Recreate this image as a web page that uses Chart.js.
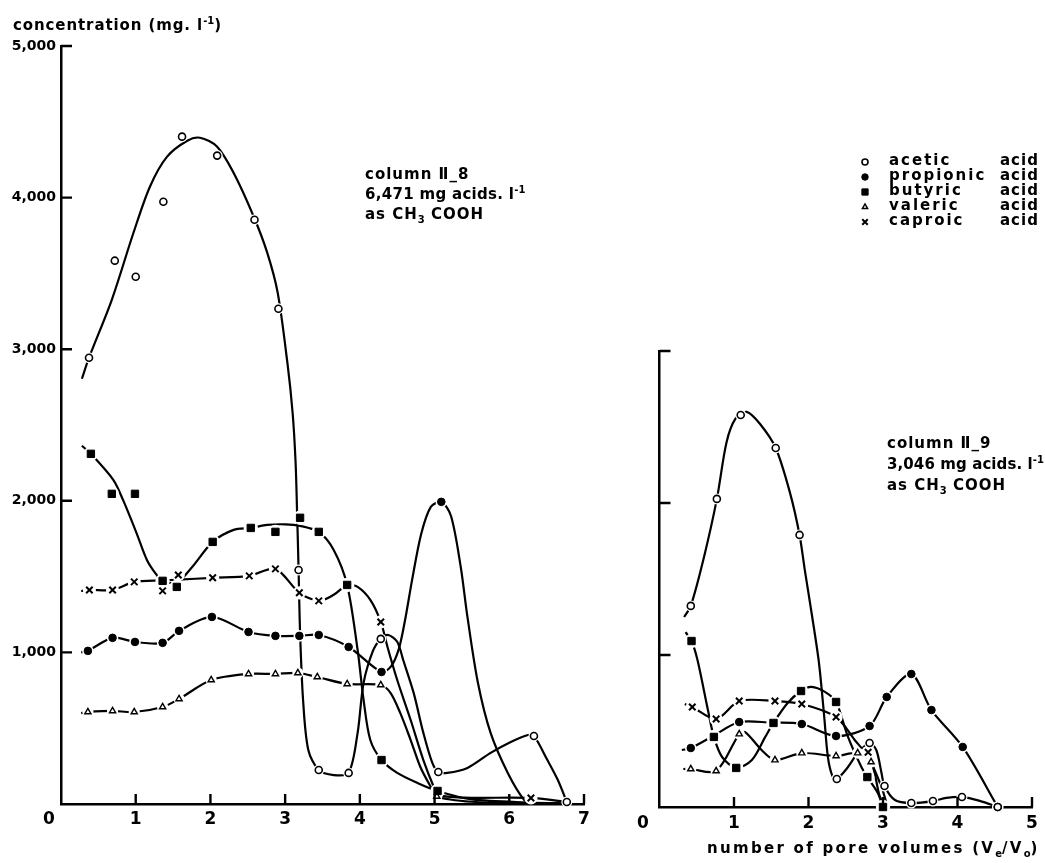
<!DOCTYPE html>
<html>
<head>
<meta charset="utf-8">
<script src="https://cdn.jsdelivr.net/npm/chart.js@4.4.1/dist/chart.umd.min.js"></script>
<style>
  html, body { margin: 0; padding: 0; background: #fff; }
  #wrap { position: relative; width: 1045px; height: 863px; overflow: hidden;
          font-family: "DejaVu Sans", sans-serif; color: #000; }
  canvas { position: absolute; top: 0; }
  #c8 { left: 0; }
  #c9 { left: 620px; }
  .t { position: absolute; white-space: nowrap; font-size: 15px; line-height: 20px; letter-spacing: 1px; font-weight: bold; }
  .t sup { font-size: 10px; vertical-align: 6px; line-height: 0; letter-spacing: 0; }
  .t sub { font-size: 10px; vertical-align: -4px; line-height: 0; letter-spacing: 0; }
  .lg { letter-spacing: 2px; }
  .ax0 { position: absolute; font-size: 17px; line-height: 20px; font-weight: bold; }
</style>
</head>
<body>
<div id="wrap">
  <canvas id="c8" width="620" height="863"></canvas>
  <canvas id="c9" width="425" height="863"></canvas>

  <div class="t" style="left:13px;top:15px;letter-spacing:0.9px;">concentration (mg. l<sup>-1</sup>)</div>

  <div class="t" style="left:365px;top:164px;">column Ⅱ_8</div>
  <div class="t" style="left:365px;top:184px;letter-spacing:0.3px;">6,471 mg acids. l<sup>-1</sup></div>
  <div class="t" style="left:365px;top:204px;">as CH<sub>3</sub> COOH</div>

  <div class="t" style="left:887px;top:433px;">column Ⅱ_9</div>
  <div class="t" style="left:887px;top:454px;letter-spacing:0.1px;">3,046 mg acids. l<sup>-1</sup></div>
  <div class="t" style="left:887px;top:475px;">as CH<sub>3</sub> COOH</div>

  <div class="t lg" style="left:889px;top:150px;">acetic</div>
  <div class="t" style="left:1000px;top:150px;">acid</div>
  <div class="t lg" style="left:889px;top:165px;">propionic</div>
  <div class="t" style="left:1000px;top:165px;">acid</div>
  <div class="t lg" style="left:889px;top:180px;">butyric</div>
  <div class="t" style="left:1000px;top:180px;">acid</div>
  <div class="t lg" style="left:889px;top:195px;">valeric</div>
  <div class="t" style="left:1000px;top:195px;">acid</div>
  <div class="t lg" style="left:889px;top:210px;">caproic</div>
  <div class="t" style="left:1000px;top:210px;">acid</div>

  <div class="ax0" style="left:43px;top:808px;">0</div>
  <div class="ax0" style="left:637px;top:812px;">0</div>

  <div class="t" style="left:707px;top:838px;letter-spacing:2.3px;">number of pore volumes (V<sub>e</sub>/V<sub>o</sub>)</div>
</div>

<script>
// ---- column II-8 : measured points [pore volumes, mg/l] ----
const acetic8 = [[0.375,2944],[0.72,3584],[1.0,3478],[1.37,3973],[1.62,4402],[2.09,4277],[2.59,3854],[2.91,3267],[3.18,1544],[3.45,224],[3.85,205],[4.28,1089],[5.05,211],[6.33,449],[6.77,13]];
const propionic8 = [[0.36,1010],[0.69,1096],[0.99,1069],[1.36,1063],[1.58,1142],[2.02,1234],[2.51,1135],[2.87,1109],[3.19,1109],[3.45,1115],[3.85,1036],[4.29,871],[5.09,1993]];
const butyric8 = [[0.40,2310],[0.68,2046],[0.99,2046],[1.36,1472],[1.55,1432],[2.03,1729],[2.54,1821],[2.87,1795],[3.2,1888],[3.45,1795],[3.83,1445],[4.29,290],[5.04,86]];
const valeric8 = [[0.36,607],[0.69,614],[0.98,607],[1.36,640],[1.58,693],[2.01,818],[2.51,858],[2.87,858],[3.17,864],[3.43,838],[3.83,792],[4.28,785],[5.03,50]];
const caproic8 = [[0.38,1412],[0.69,1412],[0.98,1465],[1.36,1406],[1.57,1511],[2.03,1492],[2.52,1505],[2.87,1551],[3.19,1393],[3.45,1340],[4.28,1201],[6.29,40]];

// ---- column II-8 : hand-fitted curves ----
const acetic8Curve = [[0.28,2805],[0.375,2944],[0.68,3326],[0.97,3768],[1.19,4072],[1.42,4270],[1.69,4375],[1.86,4395],[2.09,4336],[2.31,4164],[2.58,3874],[2.76,3637],[2.9,3373],[3.03,2911],[3.1,2581],[3.14,2251],[3.16,1921],[3.18,1544],[3.2,1129],[3.24,686],[3.31,356],[3.45,224],[3.65,191],[3.85,205],[3.97,469],[4.05,799],[4.18,1016],[4.28,1089],[4.38,1115],[4.5,1070],[4.58,950],[4.72,733],[4.85,469],[4.97,271],[5.05,211],[5.17,205],[5.44,238],[5.75,337],[6.02,409],[6.25,455],[6.33,449],[6.51,290],[6.65,158],[6.77,13]];
const propionic8Curve = [[0.27,1000],[0.36,1010],[0.69,1096],[0.99,1069],[1.36,1063],[1.58,1142],[2.02,1234],[2.51,1135],[2.87,1109],[3.19,1109],[3.45,1115],[3.85,1036],[4.29,871],[4.42,910],[4.52,1020],[4.6,1200],[4.7,1480],[4.82,1780],[4.95,1960],[5.09,1993],[5.22,1900],[5.35,1564],[5.44,1234],[5.58,800],[5.75,469],[5.98,205],[6.2,26],[6.3,5]];
const butyric8Curve = [[0.28,2363],[0.40,2310],[0.7,2138],[0.83,2006],[1.01,1789],[1.15,1610],[1.28,1511],[1.36,1472],[1.55,1460],[1.75,1560],[2.03,1729],[2.31,1808],[2.54,1821],[2.76,1841],[3.0,1845],[3.2,1835],[3.45,1795],[3.65,1676],[3.83,1445],[3.97,1016],[4.05,686],[4.14,422],[4.29,290],[4.5,205],[4.77,139],[5.04,86],[5.5,30],[6.3,10],[6.75,5]];
const valeric8Curve = [[0.27,600],[0.36,607],[0.69,614],[0.98,607],[1.36,640],[1.58,693],[2.01,818],[2.51,858],[2.87,858],[3.17,864],[3.43,838],[3.83,792],[4.28,785],[4.41,733],[4.54,601],[4.68,422],[4.81,244],[4.95,112],[5.03,50],[5.5,15],[6.3,5],[6.75,3]];
const caproic8Curve = [[0.27,1405],[0.38,1412],[0.69,1412],[0.98,1465],[1.36,1475],[1.57,1480],[2.03,1492],[2.52,1505],[2.87,1551],[3.19,1393],[3.45,1340],[3.65,1380],[3.83,1445],[3.97,1432],[4.14,1346],[4.28,1201],[4.37,1036],[4.5,818],[4.68,554],[4.85,290],[4.99,112],[5.05,60],[5.4,42],[6.29,40],[6.75,15]];

// ---- column II-9 : measured points ----
const acetic9 = [[0.42,1323],[0.77,2027],[1.09,2579],[1.56,2362],[1.88,1790],[2.38,184],[2.82,421],[3.02,138],[3.38,26],[3.67,39],[4.06,66],[4.54,0]];
const propionic9 = [[0.42,388],[1.07,559],[1.91,546],[2.37,467],[2.82,533],[3.05,724],[3.38,875],[3.65,638],[4.07,395],[4.54,0]];
const butyric9 = [[0.43,1092],[0.73,461],[1.03,257],[1.53,553],[1.9,763],[2.37,691],[2.79,197],[3.0,0]];
const valeric9 = [[0.42,250],[0.76,237],[1.07,480],[1.55,309],[1.91,355],[2.37,336],[2.66,355],[2.84,296]];
const caproic9 = [[0.44,658],[0.76,579],[1.07,697],[1.55,697],[1.91,678],[2.37,592],[2.8,360]];

// ---- column II-9 : hand-fitted curves ----
const acetic9Curve = [[0.33,1250],[0.42,1323],[0.6,1650],[0.77,2027],[0.9,2400],[1.02,2555],[1.17,2600],[1.35,2520],[1.56,2362],[1.75,2070],[1.88,1790],[1.95,1560],[2.05,1250],[2.14,950],[2.21,600],[2.26,330],[2.32,205],[2.38,184],[2.53,263],[2.66,355],[2.82,421],[2.91,375],[2.98,224],[3.02,138],[3.16,46],[3.38,26],[3.67,39],[3.85,60],[4.06,66],[4.3,40],[4.54,0]];
const propionic9Curve = [[0.3,375],[0.42,388],[0.73,470],[1.07,559],[1.5,555],[1.91,546],[2.37,467],[2.82,533],[3.05,724],[3.38,875],[3.65,638],[4.07,395],[4.54,0]];
const butyric9Curve = [[0.35,1151],[0.43,1092],[0.51,967],[0.65,638],[0.73,461],[0.84,329],[1.03,257],[1.24,309],[1.42,461],[1.53,553],[1.72,684],[1.9,763],[2.04,790],[2.22,757],[2.37,691],[2.53,461],[2.71,263],[2.79,197],[2.93,92],[3.0,0]];
const valeric9Curve = [[0.32,250],[0.42,250],[0.76,237],[1.07,480],[1.15,493],[1.37,375],[1.55,309],[1.91,355],[2.37,336],[2.66,355],[2.84,296],[2.95,80],[3.02,0]];
const caproic9Curve = [[0.34,678],[0.44,658],[0.76,579],[1.07,697],[1.55,697],[1.91,678],[2.37,592],[2.62,441],[2.8,330],[2.98,132],[3.06,0]];

// axis ranges and tick steps
const xMax8 = 7, yMax8 = 5000;
const xMax9 = 5, yMax9 = 3000;
const yStep = 1000, xStep = 1;

// marker look for each acid
const markStyles = {
  acetic:    { pointStyle: 'circle',   radius: 3.5, borderWidth: 1.6, fill: '#fff' },
  propionic: { pointStyle: 'circle',   radius: 3.8, borderWidth: 1,   fill: '#000' },
  butyric:   { pointStyle: 'rect',     radius: 5.2, borderWidth: 1,   fill: '#000' },
  valeric:   { pointStyle: 'triangle', radius: 3.6, borderWidth: 1.4, fill: '#fff' },
  caproic:   { pointStyle: 'crossRot', radius: 4.6, borderWidth: 2,   fill: '#000' }
};

const toXY = arr => arr.map(([x, y]) => ({ x, y }));

function seriesSets(curve, marks, st) {
  return [
    { data: toXY(curve), showLine: true, borderColor: '#000', borderWidth: 2.2,
      pointRadius: 0, tension: 0.3, fill: false, clip: false, order: 3 },
    { data: toXY(marks), showLine: false, pointStyle: 'circle', pointRadius: st.radius + 2,
      pointBackgroundColor: '#fff', pointBorderColor: '#fff', pointBorderWidth: 0, clip: false, order: 2 },
    { data: toXY(marks), showLine: false, pointStyle: st.pointStyle, pointRadius: st.radius,
      pointBackgroundColor: st.fill, pointBorderColor: '#000', pointBorderWidth: st.borderWidth,
      clip: false, order: 1 }
  ];
}

// short tick marks pointing into the plot area
const innerTicks = {
  id: 'innerTicks',
  afterDraw(chart) {
    const { ctx, chartArea: a, scales: { x, y } } = chart;
    ctx.save();
    ctx.strokeStyle = '#000';
    ctx.lineWidth = 2.4;
    ctx.beginPath();
    x.ticks.forEach(t => {
      if (t.value <= 0) return;
      const px = x.getPixelForValue(t.value);
      ctx.moveTo(px, a.bottom); ctx.lineTo(px, a.bottom - 10);
    });
    y.ticks.forEach(t => {
      if (t.value <= 0) return;
      const py = y.getPixelForValue(t.value);
      ctx.moveTo(a.left, py); ctx.lineTo(a.left + 11, py);
    });
    ctx.stroke();
    ctx.restore();
  }
};

// legend symbols (labels are the text rows beside them)
const legendKeys = ['acetic', 'propionic', 'butyric', 'valeric', 'caproic'];
const legendMarks = {
  id: 'legendMarks',
  afterDraw(chart) {
    const ctx = chart.ctx;
    legendKeys.forEach((k, i) => {
      const st = markStyles[k];
      ctx.save();
      ctx.fillStyle = st.fill;
      ctx.strokeStyle = '#000';
      ctx.lineWidth = st.borderWidth;
      Chart.helpers.drawPoint(ctx, { pointStyle: st.pointStyle, radius: st.radius * 0.85,
        borderWidth: st.borderWidth, rotation: 0 }, 245, 162 + i * 15);
      ctx.restore();
    });
  }
};

function axisOpts(max, step, font, labels, pad, fitFn) {
  return {
    type: 'linear', min: 0, max,
    grid: { display: false, drawTicks: false },
    border: { display: true, color: '#000', width: 2.5 },
    ticks: { stepSize: step, color: '#000', font, padding: pad, display: labels,
             callback: v => v === 0 ? '' : v.toLocaleString('en-US') },
    afterFit: fitFn
  };
}

const tickFontX = { family: 'DejaVu Sans', size: 17, weight: 'bold' };
const tickFontY = { family: 'DejaVu Sans', size: 14, weight: 'bold' };

const sets8 = [].concat(
  seriesSets(acetic8Curve, acetic8, markStyles.acetic),
  seriesSets(propionic8Curve, propionic8, markStyles.propionic),
  seriesSets(butyric8Curve, butyric8, markStyles.butyric),
  seriesSets(valeric8Curve, valeric8, markStyles.valeric),
  seriesSets(caproic8Curve, caproic8, markStyles.caproic)
);
const sets9 = [].concat(
  seriesSets(acetic9Curve, acetic9, markStyles.acetic),
  seriesSets(propionic9Curve, propionic9, markStyles.propionic),
  seriesSets(butyric9Curve, butyric9, markStyles.butyric),
  seriesSets(valeric9Curve, valeric9, markStyles.valeric),
  seriesSets(caproic9Curve, caproic9, markStyles.caproic)
);

const common = {
  responsive: false, animation: false, events: [],
  plugins: { legend: { display: false }, tooltip: { enabled: false } }
};

new Chart(document.getElementById('c8'), {
  type: 'scatter',
  data: { datasets: sets8 },
  options: Object.assign({}, common, {
    layout: { padding: { top: 46, right: 36, bottom: 0, left: 0 } },
    scales: {
      x: axisOpts(xMax8, xStep, tickFontX, true, 5, s => { s.height = 59; }),
      y: axisOpts(yMax8, yStep, tickFontY, true, 5, s => { s.width = 61; })
    }
  }),
  plugins: [innerTicks]
});

new Chart(document.getElementById('c9'), {
  type: 'scatter',
  data: { datasets: sets9 },
  options: Object.assign({}, common, {
    layout: { padding: { top: 351, right: 13, bottom: 0, left: 0 } },
    scales: {
      x: axisOpts(xMax9, xStep, tickFontX, true, 6, s => { s.height = 56; }),
      y: axisOpts(yMax9, yStep, tickFontY, false, 5, s => { s.width = 39.5; })
    }
  }),
  plugins: [innerTicks, legendMarks]
});
</script>
</body>
</html>
